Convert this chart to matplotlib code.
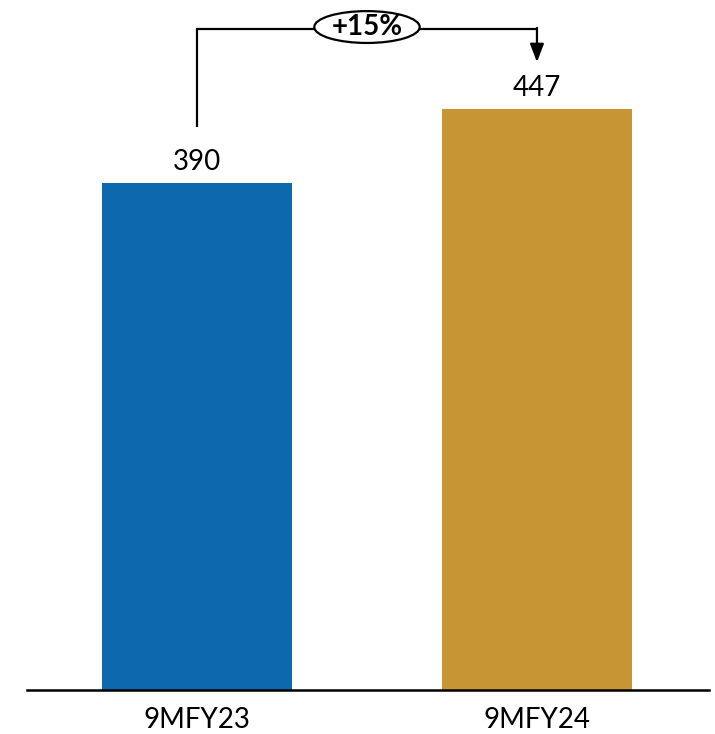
import matplotlib
matplotlib.use("Agg")
import matplotlib.pyplot as plt
from matplotlib.patches import Ellipse

categories = ["9MFY23", "9MFY24"]
values = [390, 447]
colors = ["#0E68AE", "#C89535"]

plt.rcParams["font.family"] = ["Lato", "DejaVu Sans"]

fig = plt.figure(figsize=(7.15, 7.34), dpi=100)
ax = fig.add_axes([27 / 715, 44 / 734, 682 / 715, 690 / 734])

x = list(range(len(categories)))
ax.bar(x, values, width=0.56, color=colors, zorder=2)
ax.set_xlim(-0.5, 1.506)
ax.set_ylim(0, 530.8)

for xi, v in zip(x, values):
    ax.text(xi, v + 6, f"{v}", ha="center", va="bottom", fontsize=20, color="black")

# Axes decoration: only the baseline
for side in ["top", "right", "left"]:
    ax.spines[side].set_visible(False)
ax.spines["bottom"].set_linewidth(1.8)
ax.set_yticks([])
ax.set_xticks(x)
ax.set_xticklabels(categories, fontsize=20)
ax.tick_params(axis="x", length=0, pad=12)

# Growth bracket between the two bars
top = 508.5
ax.plot([x[0], x[0], x[1]], [values[0] + 43, top, top], color="black", lw=1.6,
        zorder=3, solid_capstyle="butt", solid_joinstyle="miter")
ax.annotate("", xy=(x[1], values[1] + 36), xytext=(x[1], top + 0.8),
            arrowprops=dict(arrowstyle="-|>,head_length=1.1,head_width=0.42",
                            color="black", lw=1.6, shrinkA=0, shrinkB=0),
            zorder=3)
mid = (x[0] + x[1]) / 2
ax.add_patch(Ellipse((mid, top + 1.5), 0.31, 24.5, facecolor="white",
                     edgecolor="black", lw=1.6, zorder=4))
growth = (values[1] / values[0] - 1) * 100
ax.text(mid, top + 1.5, f"+{growth:.0f}%", ha="center", va="center",
        fontsize=20, fontweight="bold", zorder=5)

fig.savefig("out.png", dpi=100)
